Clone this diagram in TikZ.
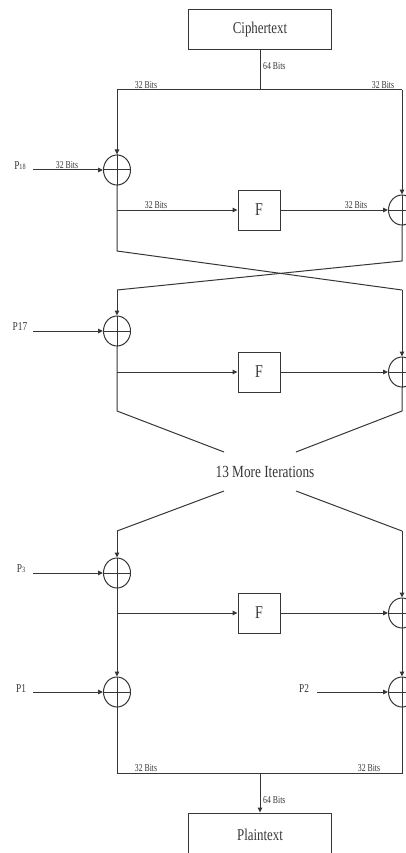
\documentclass[tikz,border=0pt]{standalone}
\usepackage{fontspec}
\setmainfont{Liberation Serif}
\newfontfamily\narrowfont[FakeStretch=0.78]{Liberation Serif}
\newfontfamily\labelfont[FakeStretch=0.74]{Liberation Serif}
\usetikzlibrary{arrows.meta,shapes.geometric}
\definecolor{ink}{HTML}{363636}

\begin{document}
\begin{tikzpicture}[x=1pt,y=-1pt,
  line/.style={draw=ink, line width=1pt},
  flow/.style={line, -{Triangle[length=5pt,width=4.5pt]}},
  datablock/.style={draw=ink, line width=1pt, minimum width=143pt, minimum height=40pt,
    inner sep=0pt, text=ink, font=\narrowfont\fontsize{16.5}{18}\selectfont},
  fblock/.style={draw=ink, line width=1pt, minimum width=42pt, minimum height=40pt,
    inner sep=0pt, text=ink, font=\narrowfont\fontsize{18}{20}\selectfont},
  xorgate/.style={ellipse, draw=ink, line width=1pt, minimum width=27pt,
    minimum height=30pt, inner sep=0pt},
  bits/.style={inner sep=0pt, text=ink, font=\labelfont\fontsize{10.5}{11}\selectfont},
  subkey/.style={inner sep=0pt, text=ink, font=\narrowfont\fontsize{12}{13}\selectfont},
  note/.style={inner sep=0pt, text=ink, font=\narrowfont\fontsize{17}{19}\selectfont},
]
\useasboundingbox (0,0) rectangle (406,853);
\clip (0,0) rectangle (406,853);

% ---------- input ----------
\node[datablock] (cipher) at (260,30) {Ciphertext};
\coordinate (split) at (260,90);
\coordinate (topL) at (117,90);
\coordinate (topR) at (402,90);

% ---------- round 1 (P18) ----------
\node[xorgate] (x18) at (117,170) {};
\node[xorgate] (r18) at (402,210) {};
\node[fblock] (f1) at (259,210) {F};
\node[subkey] (p18) at (20,166) {P{\fontsize{8}{9}\selectfont 18}};
\coordinate (p18s) at (33,170);
\coordinate (b1) at (117,210);

% ---------- swap ----------
\coordinate (cl1) at (117,251);
\coordinate (cr1) at (402,261);
\coordinate (cl2) at (117,290);
\coordinate (cr2) at (402,290);

% ---------- round 2 (P17) ----------
\node[xorgate] (x17) at (117,331) {};
\node[xorgate] (r17) at (402,372) {};
\node[fblock] (f2) at (259,372) {F};
\node[subkey] (p17) at (20,327) {P17};
\coordinate (p17s) at (33,331);
\coordinate (b2) at (117,372);

% ---------- elided rounds ----------
\coordinate (dl1) at (117,411);
\coordinate (dl2) at (224,452);
\coordinate (dr1) at (402,411);
\coordinate (dr2) at (296,452);
\node[note] (iter) at (265,472) {13 More Iterations};
\coordinate (el1) at (224,491);
\coordinate (el2) at (117,531);
\coordinate (er1) at (296,491);
\coordinate (er2) at (402,531);

% ---------- last round (P3) ----------
\node[xorgate] (x3) at (117,573) {};
\node[xorgate] (r3) at (402,613) {};
\node[fblock] (f3) at (259,613) {F};
\node[subkey] (p3) at (21,569) {P{\fontsize{8}{9}\selectfont 3}};
\coordinate (p3s) at (33,573);
\coordinate (b3) at (117,613);

% ---------- output whitening (P1, P2) ----------
\node[xorgate] (x1) at (117,692) {};
\node[xorgate] (r2) at (402,692) {};
\node[subkey] (p1) at (21,689) {P1};
\node[subkey] (p2) at (304,689) {P2};
\coordinate (p1s) at (33,692);
\coordinate (p2s) at (317,692);

% ---------- output ----------
\coordinate (botL) at (117,773);
\coordinate (botR) at (402,773);
\coordinate (join) at (260,773);
\node[datablock, minimum height=46pt] (plain) at (260,836) {\raisebox{3pt}{Plaintext}};

% XOR crosses
\foreach \g in {x18,r18,x17,r17,x3,r3,x1,r2}{
  \draw[line] (\g.north) -- (\g.south);
  \draw[line] (\g.west) -- (\g.east);
}

% input split
\draw[line] (cipher.south) -- (split);
\draw[line] (topL) -- (topR);
\draw[flow] (topL) -- (x18.north);
\draw[flow] (topR) -- (r18.north);

% round 1
\draw[flow] (p18s) -- (x18.west);
\draw[flow] (b1) -- (f1.west);
\draw[flow] (f1.east) -- (r18.west);
\draw[line] (x18.south) -- (cl1) -- (cr2);
\draw[line] (r18.south) -- (cr1) -- (cl2);
\draw[flow] (cl2) -- (x17.north);
\draw[flow] (cr2) -- (r17.north);

% round 2
\draw[flow] (p17s) -- (x17.west);
\draw[flow] (b2) -- (f2.west);
\draw[flow] (f2.east) -- (r17.west);
\draw[line] (x17.south) -- (dl1) -- (dl2);
\draw[line] (r17.south) -- (dr1) -- (dr2);

% after the elided rounds
\draw[line] (el1) -- (el2);
\draw[line] (er1) -- (er2);
\draw[flow] (el2) -- (x3.north);
\draw[flow] (er2) -- (r3.north);

% last round
\draw[flow] (p3s) -- (x3.west);
\draw[flow] (b3) -- (f3.west);
\draw[flow] (f3.east) -- (r3.west);
\draw[flow] (x3.south) -- (x1.north);
\draw[flow] (r3.south) -- (r2.north);

% whitening and join
\draw[flow] (p1s) -- (x1.west);
\draw[flow] (p2s) -- (r2.west);
\draw[line] (x1.south) -- (botL) -- (botR) -- (r2.south);
\draw[flow] (join) -- (plain.north);

% width labels
\node[bits] (wl0) at (146,85) {32 Bits};
\node[bits] (wr0) at (383,85) {32 Bits};
\node[bits, anchor=west] (w64a) at (263,66) {64 Bits};
\node[bits] (wk18) at (67,165.5) {32 Bits};
\node[bits] (wfi) at (156,205.5) {32 Bits};
\node[bits] (wfo) at (356,205.5) {32 Bits};
\node[bits] (wlb) at (146,768) {32 Bits};
\node[bits] (wrb) at (369,768) {32 Bits};
\node[bits, anchor=west] (w64b) at (263,800) {64 Bits};
\end{tikzpicture}
\end{document}
